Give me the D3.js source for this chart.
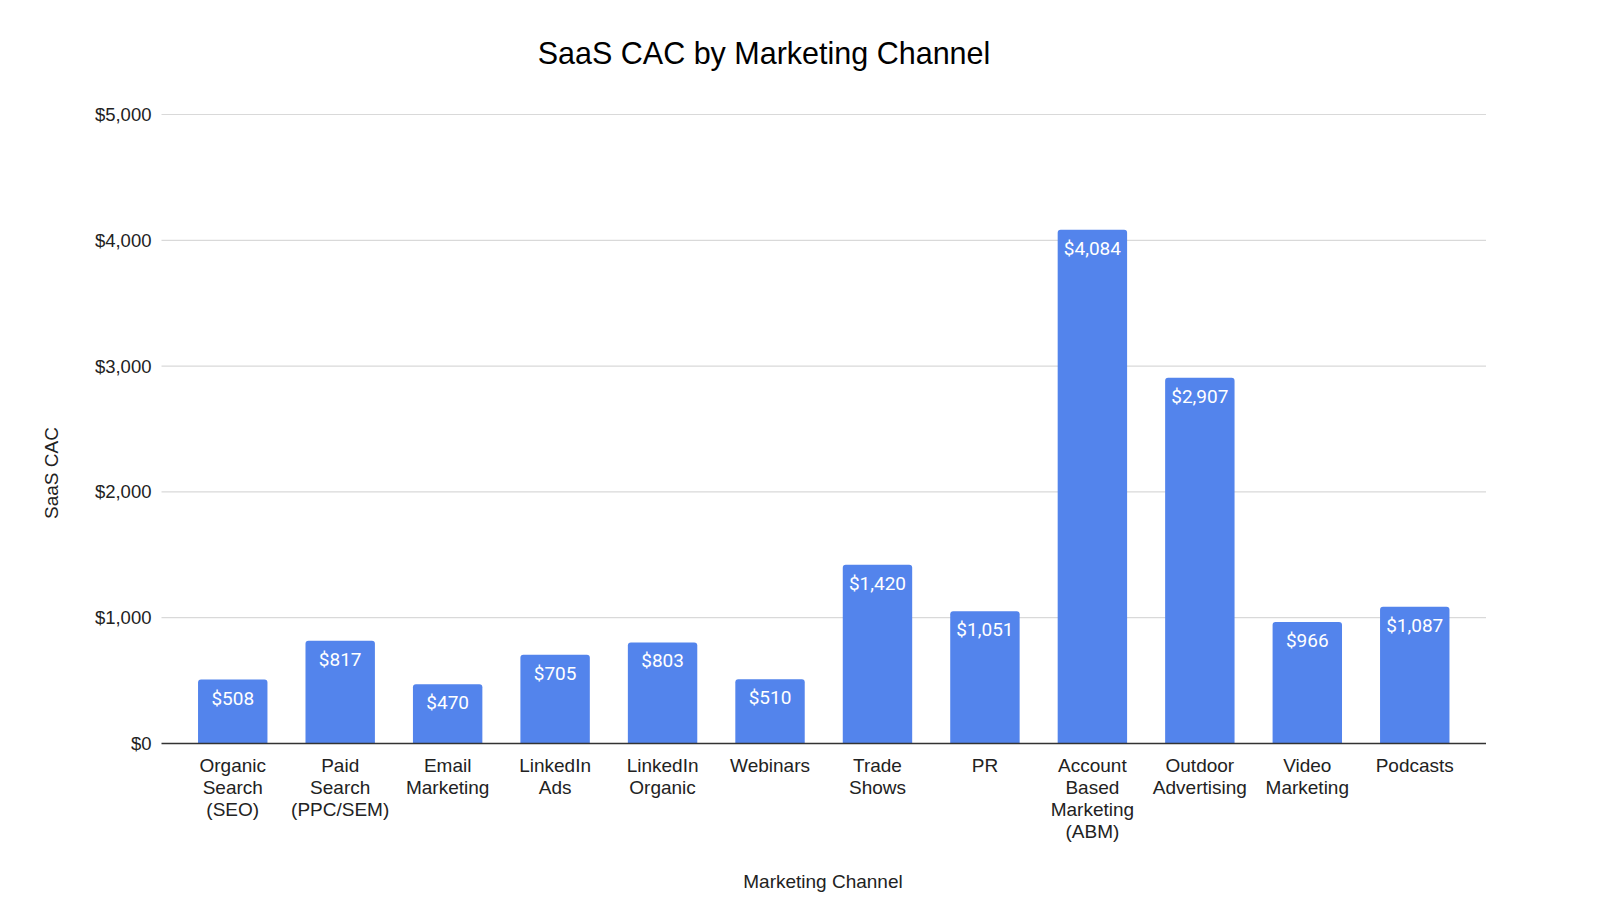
<!DOCTYPE html>
<html>
<head>
<meta charset="utf-8">
<script src="https://cdn.jsdelivr.net/npm/d3@7"></script>
<style>
    body { margin: 0; background: #fff; }
</style>
</head>
<body>
<div id="chart"></div>
<script>
var channels = [
    ['Organic', 'Search', '(SEO)'],
    ['Paid', 'Search', '(PPC/SEM)'],
    ['Email', 'Marketing'],
    ['LinkedIn', 'Ads'],
    ['LinkedIn', 'Organic'],
    ['Webinars'],
    ['Trade', 'Shows'],
    ['PR'],
    ['Account', 'Based', 'Marketing', '(ABM)'],
    ['Outdoor', 'Advertising'],
    ['Video', 'Marketing'],
    ['Podcasts']
];
var cac = [508, 817, 470, 705, 803, 510, 1420, 1051, 4084, 2907, 966, 1087];
var y_ticks = [0, 1000, 2000, 3000, 4000, 5000];

var chart_width  = 1600;
var chart_height = 913;
var plot_left   = 161.5;
var plot_right  = 1486;
var plot_top    = 114.5;
var plot_bottom = 743.5;
var label_font  = 'Liberation Sans, Arial, sans-serif';

var svg = d3.select('#chart')
    .append('svg')
    .attr('width', chart_width)
    .attr('height', chart_height);

var money = d3.format('$,');

// scales
var x_scale = d3.scaleBand()
    .domain(d3.range(cac.length))
    .range([plot_left, plot_right])
    .paddingInner(0.354)
    .paddingOuter(0.34);

var y_scale = d3.scaleLinear()
    .domain([0, 5000])
    .range([plot_bottom, plot_top]);

// title
svg.append('text')
    .attr('x', 764)
    .attr('y', 64)
    .attr('text-anchor', 'middle')
    .attr('font-family', label_font)
    .attr('font-size', 30.5)
    .attr('fill', '#000')
    .text('SaaS CAC by Marketing Channel');

// gridlines
svg.selectAll('.grid')
    .data(y_ticks.filter(function(d){ return d > 0; }))
    .enter()
    .append('line')
    .attr('x1', plot_left)
    .attr('x2', plot_right)
    .attr('y1', function(d){ return y_scale(d); })
    .attr('y2', function(d){ return y_scale(d); })
    .attr('stroke', '#d9d9d9')
    .attr('stroke-width', 1.2);

// y axis labels
var y_axis = d3.axisLeft(y_scale)
    .tickValues(y_ticks)
    .tickFormat(money)
    .tickSize(0)
    .tickPadding(10);

svg.append('g')
    .attr('transform', 'translate(' + plot_left + ',0)')
    .call(y_axis)
    .call(function(g){ g.select('.domain').remove(); })
    .selectAll('text')
    .attr('font-family', label_font)
    .attr('font-size', 18.5)
    .attr('fill', '#222');

// bars
svg.selectAll('.bar')
    .data(cac)
    .enter()
    .append('path')
    .attr('class', 'bar')
    .attr('fill', '#5384ec')
    .attr('d', function(d, i){
        var x0 = x_scale(i), w = x_scale.bandwidth();
        var y0 = y_scale(d), r = 3;
        return 'M' + x0 + ',' + plot_bottom +
            'V' + (y0 + r) +
            'Q' + x0 + ',' + y0 + ' ' + (x0 + r) + ',' + y0 +
            'H' + (x0 + w - r) +
            'Q' + (x0 + w) + ',' + y0 + ' ' + (x0 + w) + ',' + (y0 + r) +
            'V' + plot_bottom + 'Z';
    });

// baseline
svg.append('line')
    .attr('x1', plot_left)
    .attr('x2', plot_right)
    .attr('y1', plot_bottom)
    .attr('y2', plot_bottom)
    .attr('stroke', '#333')
    .attr('stroke-width', 1.3);

// value labels
svg.selectAll('.val')
    .data(cac)
    .enter()
    .append('text')
    .attr('class', 'val')
    .text(function(d){ return money(d); })
    .attr('x', function(d, i){ return x_scale(i) + x_scale.bandwidth() / 2; })
    .attr('y', function(d){ return y_scale(d) + 25; })
    .attr('text-anchor', 'middle')
    .attr('font-family', 'Roboto, sans-serif')
    .attr('font-size', 19)
    .attr('fill', '#fff');

// category labels
var cats = svg.selectAll('.cat')
    .data(channels)
    .enter()
    .append('text')
    .attr('class', 'cat')
    .attr('text-anchor', 'middle')
    .attr('font-family', label_font)
    .attr('font-size', 19)
    .attr('fill', '#222');

cats.selectAll('tspan')
    .data(function(d, i){
        return d.map(function(line, j){ return {line: line, i: i, j: j}; });
    })
    .enter()
    .append('tspan')
    .attr('x', function(d){ return x_scale(d.i) + x_scale.bandwidth() / 2; })
    .attr('y', function(d){ return plot_bottom + 28 + d.j * 22.3; })
    .text(function(d){ return d.line; });

// axis titles
svg.append('text')
    .attr('x', 823)
    .attr('y', 888)
    .attr('text-anchor', 'middle')
    .attr('font-family', label_font)
    .attr('font-size', 19)
    .attr('fill', '#222')
    .text('Marketing Channel');

svg.append('text')
    .attr('transform', 'translate(58,473) rotate(-90)')
    .attr('text-anchor', 'middle')
    .attr('font-family', label_font)
    .attr('font-size', 19)
    .attr('fill', '#222')
    .text('SaaS CAC');
</script>
</body>
</html>
